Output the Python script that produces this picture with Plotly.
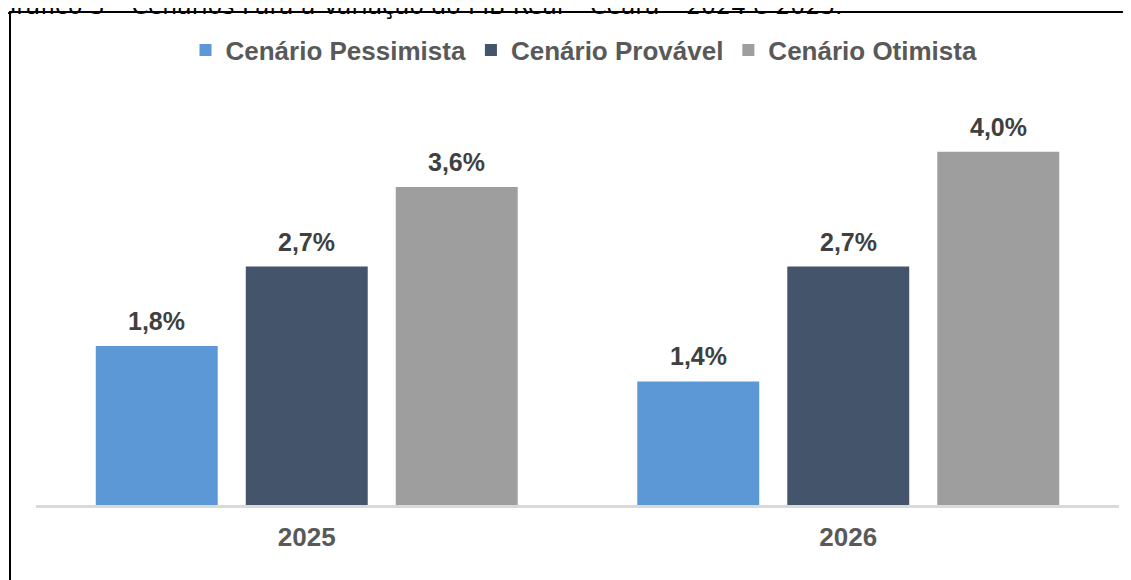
import plotly.graph_objects as go

# data
anos = ['2025', '2026']
pessimista = [1.8, 1.4]
provavel = [2.7, 2.7]
otimista = [3.6, 4.0]

series = [
    ('Cenário Pessimista', pessimista, '#5b98d5'),
    ('Cenário Provável', provavel, '#44546a'),
    ('Cenário Otimista', otimista, '#9e9e9e'),
]

fonte = 'Liberation Sans, Arial'
# the page has an 8px body margin, so the figure is sized to fit inside it
W, Hfig = 1123, 572
H = 425  # plot area height in px
slot = 150  # px between bars of a group

fig = go.Figure()
for nome, vals, cor in series:
    fig.add_trace(go.Bar(x=anos, y=vals, name=nome,
                         marker=dict(color=cor, line=dict(width=0))))

# value labels above the bars (category index j, shifted to each bar of the group)
for i, (nome, vals, cor) in enumerate(series):
    for j, v in enumerate(vals):
        fig.add_annotation(x=j, y=v, xref='x', yref='y', xshift=(i - 1) * slot,
                           text=f'{v:.1f}%'.replace('.', ','), showarrow=False,
                           yanchor='bottom', yshift=9,
                           font=dict(family=fonte, size=25, color='#404040', weight='bold'))

# cut-off caption at the very top
fig.add_annotation(xref='paper', yref='paper', x=0, y=1, xshift=-40, yshift=74,
                   xanchor='left', yanchor='middle', showarrow=False,
                   text='Gráfico 3 – Cenários Para a Variação do PIB Real – Ceará – 2024 e 2025.',
                   font=dict(family='DejaVu Sans', size=23.5, color='#000000'))

fig.update_layout(
    width=W, height=Hfig,
    margin=dict(l=28, r=12, t=72, b=75),
    paper_bgcolor='white', plot_bgcolor='white',
    barmode='group', bargap=0.169, bargroupgap=0.187,
    showlegend=True,
    legend=dict(orientation='h', x=(584 - 36) / 1083, xanchor='center',
                y=(505 - 50) / H, yanchor='middle',
                font=dict(family=fonte, size=26, color='#595959', weight='bold'),
                traceorder='normal'),
    xaxis=dict(type='category', range=[-0.5, 1.5], showline=True, linecolor='#d9d9d9',
               linewidth=3, ticks='', showgrid=False,
               tickfont=dict(family=fonte, size=26, color='#595959', weight='bold'),
               ticklabelstandoff=7),
    yaxis=dict(range=[0, H / 88.3], visible=False, showgrid=False, zeroline=False),
)

# outer frame, running off the right and bottom edges
fig.add_shape(type='rect', xref='paper', yref='paper',
              x0=(10 - 36) / 1083, x1=1.05, y0=-0.3, y1=(505 - 12) / H,
              line=dict(color='black', width=2), fillcolor='rgba(0,0,0,0)')

fig.write_html('out.html')
